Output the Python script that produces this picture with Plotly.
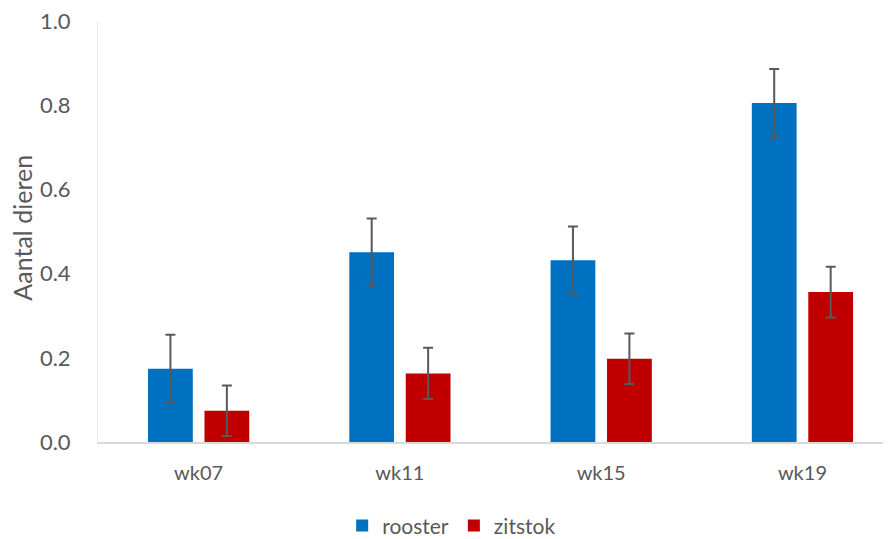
import plotly.graph_objects as go

categories = ["wk07", "wk11", "wk15", "wk19"]
rooster = [0.174, 0.451, 0.432, 0.805]
rooster_err = [0.081, 0.080, 0.080, 0.081]
zitstok = [0.074, 0.163, 0.198, 0.356]
zitstok_err = [0.060, 0.061, 0.060, 0.060]
y_ticks = [0.0, 0.2, 0.4, 0.6, 0.8, 1.0]

FONT = "Lato, 'Open Sans', sans-serif"
GREY = "#595959"

fig = go.Figure()
fig.add_trace(go.Bar(
    name="rooster", x=categories, y=rooster,
    marker=dict(color="#0070C0", line=dict(width=0)),
    error_y=dict(type="data", array=rooster_err, color=GREY, thickness=2, width=5),
))
fig.add_trace(go.Bar(
    name="zitstok", x=categories, y=zitstok,
    marker=dict(color="#C00000", line=dict(width=0)),
    error_y=dict(type="data", array=zitstok_err, color=GREY, thickness=2, width=5),
))

# page body has an 8px margin, so the figure is drawn 8px smaller and offset
fig.update_layout(
    width=883, height=531,
    margin=dict(l=90, r=0, t=13, b=97, autoexpand=False),
    paper_bgcolor="white", plot_bgcolor="white",
    barmode="group", bargap=0.439, bargroupgap=0.207,
    font=dict(family=FONT, color=GREY, size=21),
    showlegend=True,
    legend=dict(orientation="h", x=0.446, xanchor="center", y=-0.199, yanchor="middle",
                font=dict(size=21, color=GREY), itemwidth=30, traceorder="normal"),
    xaxis=dict(
        type="category", range=[-0.5, 3.44], automargin=False,
        showline=True, linecolor="#d9d9d9", linewidth=2,
        showgrid=False, ticks="", tickfont=dict(size=20, color=GREY),
        ticklabelstandoff=12,
    ),
    yaxis=dict(
        range=[0, 1.0], tickvals=y_ticks, tickformat=".1f", automargin=False,
        showline=True, linecolor="#ececec", linewidth=1,
        showgrid=False, zeroline=False, ticks="",
        tickfont=dict(size=22, color=GREY), ticklabelstandoff=22,
        ticklabeloverflow="allow",
    ),
    annotations=[dict(
        text="Aantal dieren", xref="paper", yref="paper", x=-0.0954, y=0.51,
        xanchor="center", yanchor="middle", textangle=-90, showarrow=False,
        font=dict(size=25, color=GREY, family=FONT),
    )],
)

fig.write_html("out.html")
